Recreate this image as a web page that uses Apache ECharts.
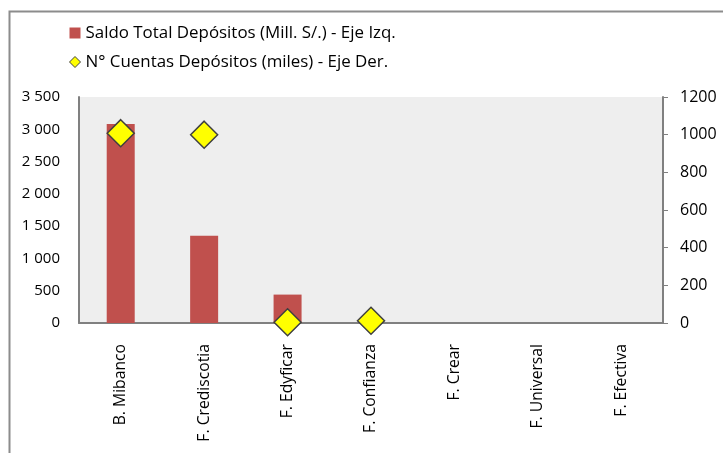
<!DOCTYPE html>
<html><head><meta charset="utf-8">
<script src="https://cdn.jsdelivr.net/npm/echarts@6/dist/echarts.min.js"></script>
<style>html,body{margin:0;padding:0;background:#fff}#c{width:723px;height:453px}</style>
</head><body><div id="c"></div>
<script>
var categories = ['B. Mibanco','F. Crediscotia','F. Edyficar','F. Confianza','F. Crear','F. Universal','F. Efectiva'];
var saldoDepositos = [3083, 1352, 440, 0, 0, 0, 0];
var cuentasDepositos = [1008, 1000, 4, 12, null, null, null];
var leftTicks = {min: 0, max: 3500, interval: 500};
var rightTicks = {min: 0, max: 1200, interval: 200};
var seriesNames = ['Saldo Total Depósitos (Mill. S/.) - Eje Izq.', 'N° Cuentas Depósitos (miles) - Eje Der.'];

var FONT = 'Open Sans';
var chart = echarts.init(document.getElementById('c'), null, {renderer: 'canvas'});
chart.setOption({
  animation: false,
  backgroundColor: '#ffffff',
  textStyle: {fontFamily: FONT},
  graphic: [{
    type: 'rect', left: 7, top: 9, silent: true,
    shape: {x: 0, y: 0, width: 740, height: 470},
    style: {fill: 'none', stroke: '#8c8c8c', lineWidth: 2}
  }],
  legend: {
    orient: 'vertical', left: 69, top: 23, itemGap: 9, padding: 0,
    itemWidth: 11, itemHeight: 11,
    textStyle: {fontFamily: FONT, fontSize: 16.9, color: '#000', lineHeight: 20, padding: [0,0,0,0]},
    data: [
      {name: seriesNames[0], icon: 'rect'},
      {name: seriesNames[1], icon: 'diamond', itemStyle: {color: '#ffff00', borderColor: '#404040', borderWidth: 1}}
    ]
  },
  grid: {left: 79, right: 60, top: 97, bottom: 130, show: true, backgroundColor: '#eeeeee', borderWidth: 0},
  xAxis: {
    type: 'category', data: categories,
    axisLine: {show: true, lineStyle: {color: '#808080', width: 2}},
    axisTick: {show: false},
    axisLabel: {rotate: 90, fontFamily: FONT, fontSize: 15.7, color: '#000', margin: 21}
  },
  yAxis: [{
    type: 'value', min: leftTicks.min, max: leftTicks.max, interval: leftTicks.interval,
    splitLine: {show: false},
    axisLine: {show: true, lineStyle: {color: '#808080', width: 2}},
    axisTick: {show: false},
    axisLabel: {fontFamily: FONT, fontSize: 15, color: '#000', margin: 19,
      formatter: function(v){ return String(v).replace(/\B(?=(\d{3})+(?!\d))/g, ' '); }}
  }, {
    type: 'value', position: 'right', min: rightTicks.min, max: rightTicks.max, interval: rightTicks.interval,
    splitLine: {show: false},
    axisLine: {show: true, lineStyle: {color: '#808080', width: 2}},
    axisTick: {show: true, inside: false, length: 5, lineStyle: {color: '#808080'}},
    axisLabel: {fontFamily: FONT, fontSize: 16, color: '#000', margin: 17,
      formatter: function(v){ return String(v); }}
  }],
  series: [{
    name: seriesNames[0], type: 'bar', yAxisIndex: 0, data: saldoDepositos,
    barWidth: 28, itemStyle: {color: '#c0504d'}
  }, {
    name: seriesNames[1], type: 'scatter', yAxisIndex: 1, data: cuentasDepositos,
    symbol: 'diamond', symbolSize: 27,
    itemStyle: {color: '#ffff00', borderColor: '#404040', borderWidth: 1.5, opacity: 1}
  }]
});
</script></body></html>
